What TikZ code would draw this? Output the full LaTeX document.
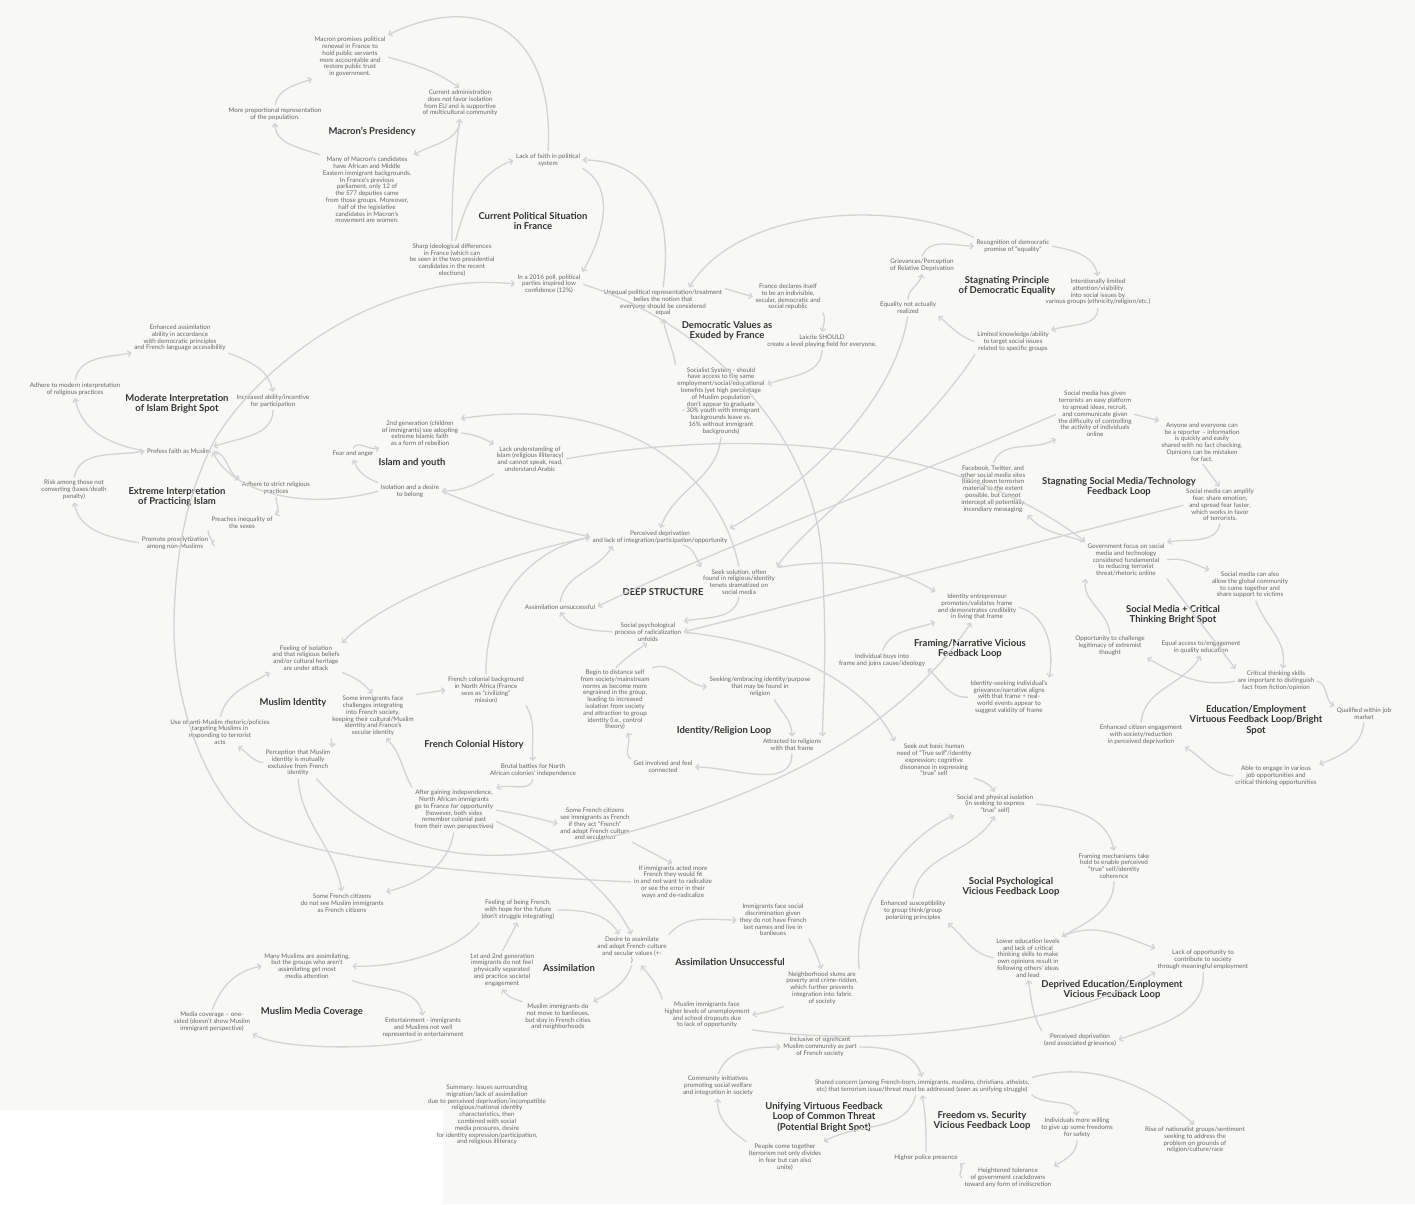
\documentclass[tikz,border=0pt]{standalone}
\usepackage{fontspec}
\setmainfont{Lato}
\usetikzlibrary{arrows.meta}
\definecolor{txtc}{HTML}{666666}
\definecolor{ttlc}{HTML}{333333}
\definecolor{lnkc}{HTML}{D3D3D3}
\definecolor{bgc}{HTML}{F8F8F6}
\begin{document}
\begin{tikzpicture}[x=1pt,y=1pt,
  txt/.style={font=\fontsize{6.3}{6.8}\selectfont,text=txtc,align=center,inner sep=1.5pt},
  ttl/.style={font=\fontsize{9.5}{10.5}\selectfont\bfseries,text=ttlc,align=center,inner sep=1.5pt},
  lnk/.style={draw=lnkc,line width=1.3pt,-{Straight Barb[length=3pt,width=6pt]},shorten >=1pt,shorten <=1pt}]
\useasboundingbox (0,0) rectangle (1415,-1204);
\fill[white] (0,0) rectangle (1415,-1204);
\fill[bgc] (0,0) -- (1415,0) -- (1415,-1204) -- (443,-1204) -- (443,-1110) -- (0,-1110) -- cycle;

\node[txt] (mpr) at (350,-57) {Macron promises political\\renewal in France to\\hold public servants\\more accountable and\\restore public trust\\in government.};
\node[txt] (cad) at (460,-103) {Current administration\\does not favor isolation\\from EU and is supportive\\of multicultural community};
\node[txt] (mpro) at (275,-114) {More proportional representation\\of the population.};
\node[ttl] (tMacron) at (372,-132) {Macron’s Presidency};
\node[txt] (mcand) at (367,-190) {Many of Macron’s candidates\\have African and Middle\\Eastern immigrant backgrounds.\\In France’s previous\\parliament, only 12 of\\the 577 deputies came\\from those groups. Moreover,\\half of the legislative\\candidates in Macron’s\\movement are women.};
\node[txt] (lfaith) at (548,-160) {Lack of faith in political\\system};
\node[ttl] (tPolit) at (533,-221) {Current Political Situation\\in France};
\node[txt] (sharp) at (452,-260) {Sharp ideological differences\\in France (which can\\be seen in the two presidential\\candidates in the recent\\elections)};
\node[txt] (poll) at (549,-284) {In a 2016 poll, political\\parties inspired low\\confidence (12\%)};

\node[txt] (uneq) at (663,-303) {Unequal political representation/treatment\\belies the notion that\\everyone should be considered\\equal};
\node[txt] (fdecl) at (788,-297) {France declares itself\\to be an indivisible,\\secular, democratic and\\social republic};
\node[ttl] (tDemo) at (727,-331) {Democratic Values as\\Exuded by France};
\node[txt] (laic) at (822,-341) {Laicite SHOULD\\create a level playing field for everyone.};
\node[txt] (socs) at (721,-401) {Socialist System - should\\have access to the same\\employment/social/educational\\benefits (yet high percentage\\of Muslim population\\don’t appear to graduate\\- 30\% youth with immigrant\\backgrounds leave vs.\\16\% without immigrant\\backgrounds)};

\node[txt] (griev) at (922,-265) {Grievances/Perception\\of Relative Deprivation};
\node[txt] (recog) at (1013,-246) {Recognition of democratic\\promise of “equality”};
\node[ttl] (tStag) at (1007,-286) {Stagnating Principle\\of Democratic Equality};
\node[txt] (intl) at (1098,-292) {Intentionally limited\\attention/visibility\\into social issues by\\various groups (ethnicity/religion/etc.)};
\node[txt] (limk) at (1013,-342) {Limited knowledge/ability\\to target social issues\\related to specific groups};
\node[txt] (eqnr) at (908,-308) {Equality not actually\\realized};

\node[txt] (smgiven) at (1095,-414) {Social media has given\\terrorists an easy platform\\to spread ideas, recruit,\\and communicate given\\the difficulty of controlling\\the activity of individuals\\online};
\node[txt] (anyone) at (1202,-442) {Anyone and everyone can\\be a reporter -- information\\is quickly and easily\\shared with no fact checking.\\Opinions can be mistaken\\for fact.};
\node[ttl] (tSMT) at (1119,-487) {Stagnating Social Media/Technology\\Feedback Loop};
\node[txt] (amplify) at (1220,-505) {Social media can amplify\\fear, share emotion,\\and spread fear faster,\\which works in favor\\of terrorists.};
\node[txt] (fbook) at (993,-489) {Facebook, Twitter, and\\other social media sites\\(taking down terrorism\\material to the extent\\possible, but cannot\\intercept all potentially\\incendiary messaging};
\node[txt] (govf) at (1126,-560) {Government focus on social\\media and technology\\considered fundamental\\to reducing terrorist\\threat/rhetoric online};

\node[txt] (smalso) at (1250,-585) {Social media can also\\allow the global community\\to come together and\\share support to victims};
\node[ttl] (tSMC) at (1173,-615) {Social Media + Critical\\Thinking Bright Spot};
\node[txt] (oppch) at (1110,-646) {Opportunity to challenge\\legitimacy of extremist\\thought};
\node[txt] (eqacc) at (1201,-647) {Equal access to/engagement\\in quality education};
\node[txt] (crit) at (1276,-681) {Critical thinking skills\\are important to distinguish\\fact from fiction/opinion};
\node[txt] (qual) at (1364,-714) {Qualified within job\\market};
\node[ttl] (tEdu) at (1256,-720) {Education/Employment\\Virtuous Feedback Loop/Bright\\Spot};
\node[txt] (enhc) at (1141,-735) {Enhanced citizen engagement\\with society/reduction\\in perceived deprivation};
\node[txt] (able) at (1276,-776) {Able to engage in various\\job opportunities and\\critical thinking opportunities};

\node[txt] (enha) at (180,-338) {Enhanced assimilation\\ability in accordance\\with democratic principles\\and French language accessibility};
\node[txt] (admod) at (75,-389) {Adhere to modern interpretation\\of religious practices};
\node[ttl] (tMod) at (177,-404) {Moderate Interpretation\\of Islam Bright Spot};
\node[txt] (incr) at (273,-401) {Increased ability/incentive\\for participation};
\node[txt] (profess) at (179,-451) {Profess faith as Muslim};
\node[txt] (risk) at (74,-490) {Risk among those not\\converting (taxes/death\\penalty)};
\node[ttl] (tExt) at (177,-497) {Extreme Interpretation\\of Practicing Islam};
\node[txt] (adstr) at (276,-488) {Adhere to strict religious\\practices};
\node[txt] (preach) at (242,-523) {Preaches inequality of\\the sexes};
\node[txt] (prosel) at (175,-543) {Promote proselytization\\among non-Muslims};

\node[txt] (fear) at (353,-454) {Fear and anger};
\node[txt] (gen2) at (420,-433) {2nd generation (children\\of immigrants) see adopting\\extreme Islamic faith\\as a form of rebellion};
\node[ttl] (tYouth) at (412,-463) {Islam and youth};
\node[txt] (lacku) at (530,-459) {Lack understanding of\\Islam (religious illiteracy)\\and cannot speak, read,\\understand Arabic};
\node[txt] (isol) at (410,-491) {Isolation and a desire\\to belong};

\node[txt] (percd) at (660,-537) {Perceived deprivation\\and lack of integration/participation/opportunity};
\node[txt] (seeks) at (739,-582) {Seek solution, often\\found in religious/identity\\tenets dramatized on\\social media};
\node[ttl] (tDeep) at (663,-592) {DEEP STRUCTURE};
\node[txt] (assimu) at (560,-607) {Assimilation unsuccessful};
\node[txt] (socpsy) at (648,-632) {Social psychological\\process of radicalization\\unfolds};

\node[txt] (begin) at (615,-700) {Begin to distance self\\from society/mainstream\\norms as become more\\engrained in the group,\\leading to increased\\isolation from society\\and attraction to group\\identity (i.e., control\\theory)};
\node[txt] (seeking) at (760,-687) {Seeking/embracing identity/purpose\\that may be found in\\religion};
\node[ttl] (tIdRel) at (724,-731) {Identity/Religion Loop};
\node[txt] (attr) at (792,-745) {Attracted to religions\\with that frame};
\node[txt] (getinv) at (663,-767) {Get involved and feel\\connected};

\node[txt] (fcol) at (486,-690) {French colonial background\\in North Africa (France\\sees as “civilizing”\\mission)};
\node[ttl] (tFCH) at (474,-745) {French Colonial History};
\node[txt] (brutal) at (533,-770) {Brutal battles for North\\African colonies’ independence};
\node[txt] (after) at (454,-810) {After gaining independence,\\North African immigrants\\go to France for opportunity\\(however, both sides\\remember colonial past\\from their own perspectives)};
\node[txt] (frsee) at (595,-824) {Some French citizens\\see immigrants as French\\if they act “French”\\and adopt French culture\\and secularism};
\node[txt] (ifimm) at (673,-882) {If immigrants acted more\\French they would fit\\in and not want to radicalize\\or see the error in their\\ways and de-radicalize};

\node[txt] (feeliso) at (306,-658) {Feeling of isolation\\and that religious beliefs\\and/or cultural heritage\\are under attack};
\node[ttl] (tMI) at (293,-703) {Muslim Identity};
\node[txt] (useanti) at (220,-732) {Use of anti-Muslim rhetoric/policies\\targeting Muslims in\\responding to terrorist\\acts};
\node[txt] (someimm) at (373,-716) {Some immigrants face\\challenges integrating\\into French society,\\keeping their cultural/Muslim\\identity and France’s\\secular identity};
\node[txt] (percep) at (298,-763) {Perception that Muslim\\identity is mutually\\exclusive from French\\identity};
\node[txt] (frnot) at (342,-903) {Some French citizens\\do not see Muslim immigrants\\as French citizens};

\node[txt] (feelfr) at (518,-910) {Feeling of being French,\\with hope for the future\\(don’t struggle integrating)};
\node[txt] (gen12) at (502,-970) {1st and 2nd generation\\immigrants do not feel\\physically separated\\and practice societal\\engagement};
\node[ttl] (tAssim) at (569,-968) {Assimilation};
\node[txt] (desire) at (632,-950) {Desire to assimilate\\and adopt French culture\\and secular values (+-\\)};
\node[txt] (nomove) at (558,-1017) {Muslim immigrants do\\not move to banlieues,\\but stay in French cities\\and neighborhoods};
\node[txt] (immdisc) at (773,-920) {Immigrants face social\\discrimination given\\they do not have French\\last names and live in\\banlieues};
\node[ttl] (tAU) at (730,-962) {Assimilation Unsuccessful};
\node[txt] (slums) at (822,-988) {Neighborhood slums are\\poverty and crime-ridden,\\which further prevents\\integration into fabric\\of society};
\node[txt] (higher) at (707,-1015) {Muslim immigrants face\\higher levels of unemployment\\and school dropouts due\\to lack of opportunity};

\node[txt] (identent) at (977,-607) {Identity entrepreneur\\promotes/validates frame\\and demonstrates credibility\\in living that frame};
\node[ttl] (tFram) at (970,-649) {Framing/Narrative Vicious\\Feedback Loop};
\node[txt] (buys) at (882,-660) {Individual buys into\\frame and joins cause/ideology};
\node[txt] (idseek) at (1009,-697) {Identity-seeking individual’s\\grievance/narrative aligns\\with that frame + real-\\world events appear to\\suggest validity of frame};
\node[txt] (seekout) at (934,-760) {Seek out basic human\\need of “True self”/identity\\expression; cognitive\\dissonance in expressing\\“true” self};

\node[txt] (socphys) at (995,-804) {Social and physical isolation\\(in seeking to express\\“true” self)};
\node[txt] (framm) at (1114,-866) {Framing mechanisms take\\hold to enable perceived\\“true” self/identity\\coherence};
\node[ttl] (tSP) at (1011,-887) {Social Psychological\\Vicious Feedback Loop};
\node[txt] (enhsus) at (913,-911) {Enhanced susceptibility\\to group think/group\\polarizing principles};
\node[txt] (lowed) at (1028,-958) {Lower education levels\\and lack of critical\\thinking skills to make\\own opinions result in\\following others’ ideas\\and lead};
\node[txt] (lackopp) at (1203,-960) {Lack of opportunity to\\contribute to society\\through meaningful employment};
\node[ttl] (tDEE) at (1112,-990) {Deprived Education/Employment\\Vicious Feedback Loop};
\node[txt] (percgr) at (1080,-1040) {Perceived deprivation\\(and associated grievance)};

\node[txt] (many) at (307,-966) {Many Muslims are assimilating,\\but the groups who aren’t\\assimilating get most\\media attention};
\node[ttl] (tMMC) at (312,-1012) {Muslim Media Coverage};
\node[txt] (mediac) at (212,-1022) {Media coverage -- one-\\sided (doesn’t show Muslim\\immigrant perspective)};
\node[txt] (entert) at (423,-1028) {Entertainment - immigrants\\and Muslims not well\\represented in entertainment};
\node[txt] (summary) at (487,-1115) {Summary: Issues surrounding\\migration/lack of assimilation\\due to perceived deprivation/incompatible\\religious/national identity\\characteristics, then\\combined with social\\media pressures, desire\\for identity expression/participation,\\and religious illiteracy};

\node[txt] (inclus) at (820,-1047) {Inclusive of significant\\Muslim community as part\\of French society};
\node[txt] (commun) at (718,-1086) {Community initiatives\\promoting social welfare\\and integration in society};
\node[txt] (shared) at (922,-1086) {Shared concern (among French-born, immigrants, muslims, christians, atheists,\\etc) that terrorism issue/threat must be addressed (seen as unifying struggle)};
\node[ttl] (tUni) at (824,-1117) {Unifying Virtuous Feedback\\Loop of Common Threat\\(Potential Bright Spot)};
\node[ttl] (tFree) at (982,-1121) {Freedom vs. Security\\Vicious Feedback Loop};
\node[txt] (indiv) at (1077,-1128) {Individuals more willing\\to give up some freedoms\\for safety};
\node[txt] (rise) at (1195,-1140) {Rise of nationalist groups/sentiment\\seeking to address the\\problem on grounds of\\religion/culture/race};
\node[txt] (people) at (785,-1157) {People come together\\(terrorism not only divides\\in fear but can also\\unite)};
\node[txt] (police) at (926,-1158) {Higher police presence};
\node[txt] (heighten) at (1008,-1178) {Heightened tolerance\\of government crackdowns\\toward any form of indiscretion};

\draw[lnk] (mpr.east) to[out=-15,in=145] (cad.north);
\draw[lnk] (cad.south) to[out=-90,in=30] (mcand.north east);
\draw[lnk] (mcand.north west) to[out=160,in=-90] (mpro.south);
\draw[lnk] (mpro.north) to[out=80,in=200] (mpr.south west);
\draw[lnk] (lfaith.north) .. controls (555,-30) and (480,10) .. (mpr.north east);
\draw[lnk] (uneq.north) .. controls (675,-200) and (640,-160) .. (lfaith.east);
\draw[lnk] (lfaith.south east) to[out=-30,in=60] (poll.north east);
\draw[lnk] (sharp.north) to[bend left=4] (cad.south);
\draw[lnk] (sharp.80) to[out=75,in=200] (lfaith.west);

\draw[lnk] (uneq.north east) to (fdecl.west);
\draw[lnk] (fdecl.south east) to[out=-60,in=80] (laic.north);
\draw[lnk] (laic.south) to[out=-90,in=20] (socs.20);
\draw[lnk] (socs.north west) to[out=100,in=-80] (uneq.south);
\draw[lnk] (recog.north west) .. controls (900,-200) and (740,-205) .. (uneq.30);

\draw[lnk] (griev.north) to[out=70,in=180] (recog.west);
\draw[lnk] (recog.east) to[out=-10,in=100] (intl.north);
\draw[lnk] (intl.south) to[out=-90,in=20] (limk.north east);
\draw[lnk] (limk.west) to[out=160,in=-40] (eqnr.south east);
\draw[lnk] (eqnr.north) to[out=90,in=-100] (griev.south);

\draw[lnk] (poll.east) .. controls (700,-320) and (815,-430) .. (822,-560) .. controls (828,-660) and (822,-715) .. (attr.north east);
\draw[lnk] (ifimm.west) .. controls (480,-875) and (320,-860) .. (258,-830) .. controls (220,-812) and (172,-720) .. (174,-620) .. controls (176,-540) and (190,-490) .. (213,-443) .. controls (240,-395) and (300,-340) .. (367,-310) .. controls (430,-283) and (470,-280) .. (poll.west);
\draw[lnk] (seeks.north) .. controls (720,-470) and (620,-395) .. (gen2.north east);
\draw[lnk] (isol.west) .. controls (300,-512) and (230,-490) .. (profess.east);
\draw[lnk] (isol.east) to[bend right=5] (percd.west);
\draw[lnk] (socs.south) to[out=-95,in=70] (percd.north);
\draw[lnk] (eqnr.south) .. controls (890,-420) and (780,-500) .. (percd.north east);
\draw[lnk] (limk.south west) .. controls (920,-440) and (800,-530) .. (seeks.north east);
\draw[lnk] (smgiven.west) .. controls (880,-490) and (700,-555) .. (assimu.east);
\draw[lnk] (amplify.west) -- (socpsy.east);
\draw[lnk] (lacku.east) .. controls (760,-425) and (960,-445) .. (govf.north west);
\draw[lnk] (percd.west) .. controls (500,-555) and (380,-600) .. (feeliso.north east);
\draw[lnk] (fcol.north) .. controls (485,-600) and (530,-550) .. (percd.west);
\draw[lnk] (socpsy.east) .. controls (800,-645) and (870,-690) .. (seekout.north west);
\draw[lnk] (percep.-40) .. controls (380,-850) and (470,-870) .. (580,-845) .. controls (700,-815) and (880,-760) .. (identent.-110);
\draw[lnk] (slums.north east) .. controls (850,-900) and (915,-830) .. (socphys.south west);
\draw[lnk] (higher.south east) .. controls (900,-1050) and (1080,-1020) .. (lackopp.south west);
\draw[lnk] (feelfr.south west) .. controls (460,-950) and (400,-968) .. (many.east);
\draw[lnk] (seeks.north east) .. controls (850,-555) and (900,-570) .. (identent.north west);

\draw[lnk] (admod.north) to[out=80,in=190] (enha.south west);
\draw[lnk] (enha.south east) to[out=-20,in=100] (incr.north);
\draw[lnk] (incr.south) to[out=-90,in=20] (profess.north east);
\draw[lnk] (profess.west) to[out=170,in=-80] (admod.south);
\draw[lnk] (profess.east) to[out=-10,in=150] (adstr.north west);
\draw[lnk] (adstr.south) to[out=-90,in=30] (preach.north east);
\draw[lnk] (preach.south west) to[out=200,in=0] (prosel.east);
\draw[lnk] (prosel.west) to[out=170,in=-80] (risk.south);
\draw[lnk] (risk.north) to[out=80,in=190] (profess.west);

\draw[lnk] (fear.north) to[out=70,in=200] (gen2.south west);
\draw[lnk] (gen2.east) to[out=-5,in=150] (lacku.north west);
\draw[lnk] (lacku.south west) to[out=-150,in=0] (isol.east);
\draw[lnk] (isol.north west) to[out=160,in=-70] (fear.south);

\draw[lnk] (percd.-20) to[out=-10,in=120] (seeks.north west);
\draw[lnk] (seeks.south) to[out=-100,in=10] (socpsy.north east);
\draw[lnk] (socpsy.west) to[out=175,in=-60] (assimu.south);
\draw[lnk] (assimu.north) to[out=80,in=-120] ([xshift=22pt]percd.south west);

\draw[lnk] (begin.north) to[bend left=5] (socpsy.south);
\draw[lnk] (begin.north east) to[out=20,in=175] (seeking.west);
\draw[lnk] (seeking.-40) to[out=-60,in=90] (attr.north);
\draw[lnk] (attr.south) to[out=-90,in=0] (getinv.east);
\draw[lnk] (getinv.north west) to[out=150,in=-60] (begin.-70);

\draw[lnk] (feeliso.south east) to[bend left=15] (someimm.north);
\draw[lnk] (someimm.south west) to[bend left=10] (percep.north east);
\draw[lnk] (percep.west) to[out=170,in=-30] (useanti.-40);
\draw[lnk] (useanti.north) to[out=75,in=210] (feeliso.south west);
\draw[lnk] (someimm.north east) to (fcol.west);
\draw[lnk] (fcol.south east) to[out=-60,in=95] (brutal.north);
\draw[lnk] (brutal.south) to[out=-100,in=20] (after.north east);
\draw[lnk] (after.north west) to[out=120,in=-45] (someimm.-60);
\draw[lnk] (after.east) to[bend left=3] (frsee.west);
\draw[lnk] (after.-15) .. controls (560,-850) and (610,-890) .. (desire.north);
\draw[lnk] (after.south) to[out=-100,in=15] (frnot.north east);
\draw[lnk] (percep.south) to[out=-85,in=100] (frnot.north);
\draw[lnk] (frsee.south east) to (ifimm.north);

\draw[lnk] (feelfr.east) to[out=0,in=120] (desire.130);
\draw[lnk] (gen12.north) to (feelfr.south);
\draw[lnk] (desire.south) to[out=-110,in=30] (nomove.north east);
\draw[lnk] (nomove.north west) to[out=160,in=-60] (gen12.south);
\draw[lnk] (desire.north east) to[out=50,in=180] (immdisc.west);
\draw[lnk] (immdisc.south east) to[out=-60,in=110] (slums.north);
\draw[lnk] (slums.south west) to[out=-160,in=10] (higher.east);
\draw[lnk] (higher.north west) to[out=110,in=-50] (desire.-60);

\draw[lnk] (identent.east) to[out=-15,in=80] (idseek.north east);
\draw[lnk] (idseek.west) to[out=185,in=-40] (buys.south east);
\draw[lnk] (buys.north) to[out=70,in=200] (identent.south west);
\draw[lnk] (seekout.south east) to[out=-20,in=120] (socphys.north);

\draw[lnk] (socphys.east) to[out=-5,in=100] (framm.north);
\draw[lnk] (framm.south) to[out=-90,in=30] (lowed.north east);
\draw[lnk] (lowed.west) to[out=170,in=-40] (enhsus.south east);
\draw[lnk] (enhsus.north) to[out=85,in=-120] (socphys.south);
\draw[lnk] (lowed.north east) to[out=25,in=160] (lackopp.north west);
\draw[lnk] (lackopp.south) to[out=-85,in=20] (percgr.east);
\draw[lnk] (percgr.north west) to[out=120,in=-80] (lowed.south);

\draw[lnk] (smgiven.east) to (anyone.north west);
\draw[lnk] (anyone.south) to (amplify.north);
\draw[lnk] (amplify.south) to[out=-100,in=10] (govf.north east);
\draw[lnk] (govf.north west) to[out=160,in=-50] (fbook.south east);
\draw[lnk] (fbook.north) to[out=70,in=-150] (smgiven.south west);

\draw[lnk] (govf.east) to[out=10,in=160] (smalso.north west);
\draw[lnk] (smalso.-70) to[out=-70,in=80] (crit.60);
\draw[lnk] (crit.west) to[out=190,in=-30] (oppch.south east);
\draw[lnk] (oppch.north) to[out=95,in=-100] (govf.south west);
\draw[lnk] (govf.south east) to (crit.north west);
\draw[lnk] (crit.east) to[out=-10,in=150] (qual.north west);
\draw[lnk] (qual.south) to[out=-95,in=20] (able.north east);
\draw[lnk] (able.west) to[out=175,in=-30] (enhc.south east);
\draw[lnk] (enhc.north) to[out=85,in=-120] (eqacc.south);

\draw[lnk] (many.south east) to[out=-20,in=100] (entert.north);
\draw[lnk] (entert.south) .. controls (380,-1050) and (280,-1050) .. (mediac.south east);
\draw[lnk] (mediac.north) to[out=70,in=190] (many.west);

\draw[lnk] (commun.north) to[out=70,in=180] (inclus.west);
\draw[lnk] (inclus.east) to[out=0,in=105] (shared.north);
\draw[lnk] ([xshift=-6pt]shared.south) to[out=-105,in=30] (people.north east);
\draw[lnk] (people.north west) to[out=145,in=-95] (commun.south);
\draw[lnk] (shared.south east) to[out=-40,in=100] (indiv.north);
\draw[lnk] (indiv.south) to[out=-90,in=30] (heighten.north east);
\draw[lnk] (heighten.west) to[out=175,in=-40] (police.south east);
\draw[lnk] (police.north) to[out=90,in=-80] (shared.south);
\draw[lnk] (shared.north east) .. controls (1090,-1060) and (1150,-1085) .. (rise.north);
\end{tikzpicture}
\end{document}
